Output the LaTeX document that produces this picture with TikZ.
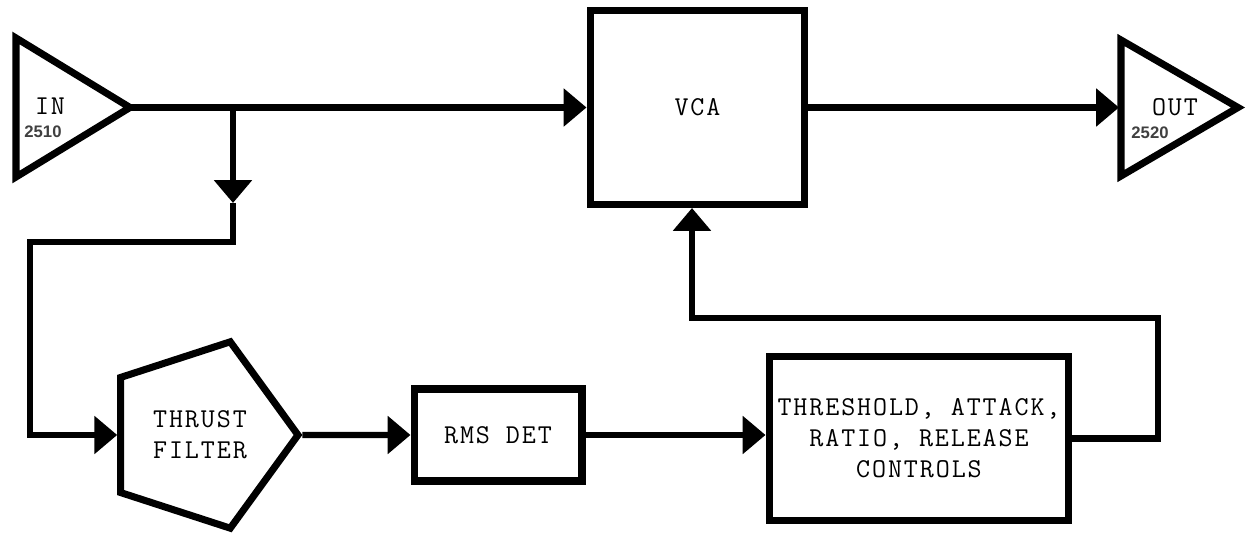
\documentclass[tikz,border=0pt]{standalone}
\usepackage{fontspec}
\setsansfont{Liberation Sans}
\newfontfamily\blockface{Latin Modern Mono}[LetterSpace=7]
\usepackage{tikz}
\usetikzlibrary{
	arrows.meta,
	calc,
	positioning,
	shapes,
	}
\newcommand\blockfont{\fontsize{15.5}{17.6}\selectfont\blockface}
\newcommand\tagfont{\fontsize{9.5}{10}\selectfont\sffamily\bfseries}

\begin{document}
\begin{tikzpicture}[x=0.02cm, y=-0.02cm,
		wire/.style={line width=3.6pt},
		flow/.style={wire, -{Triangle[length=13pt,width=21pt]}},
		block/.style={draw, line width=4pt, inner sep=0pt, align=center, font=\blockfont, text=black},
		lbl/.style={font=\blockfont, text=black},
		tag/.style={font=\tagfont, text=black!75}]
		\useasboundingbox (0,0) rectangle (1249,537);
		\node[block, minimum width=4.3cm, minimum height=3.88cm] (vca) at (697.5,107.5) {VCA};
		\node[block, regular polygon, regular polygon sides=5, shape border rotate=270, minimum size=3.92cm] (filter) at (200,435) {THRUST\\FILTER};
		\node[block, minimum width=3.36cm, minimum height=1.84cm] (rms) at (498,435) {RMS DET};
		\node[block, minimum width=6cm, minimum height=3.3cm] (ctrl) at (919,438.5) {THRESHOLD, ATTACK,\\RATIO, RELEASE\\CONTROLS};
		\coordinate (inTop) at (16,38);
		\coordinate (inBot) at (16,177);
		\coordinate (inTip) at (130,107.5);
		\draw[line width=4pt] (inTop) -- (inTip) -- (inBot) -- cycle;
		\node[lbl] (in) at (50,106) {IN};
		\node[tag] (inNum) at (43,132) {2510};
		\coordinate (outTop) at (1121,40);
		\coordinate (outBot) at (1121,176);
		\coordinate (outTip) at (1238,107.5);
		\coordinate (outBase) at (1119,107.5);
		\draw[line width=4pt] (outTop) -- (outTip) -- (outBot) -- cycle;
		\node[lbl] (out) at (1175,107) {OUT};
		\node[tag] (outNum) at (1150,133) {2520};
		\coordinate (split) at (233,107.5);
		\coordinate (splitTip) at (233,203);
		\coordinate (loopTop) at (30,242);
		\coordinate (fbR) at (1158,318);
		\coordinate (fbL) at (692,318);
		\draw[flow] (inTip) -- (vca.west);
		\draw[flow] (vca.east) -- (outBase);
		\draw[flow] (split) -- (splitTip);
		\draw[flow] (splitTip) |- (loopTop) |- (filter.west);
		\draw[flow] (filter.east) -- (rms.west);
		\draw[flow] (rms.east) -- (rms.east -| ctrl.west);
		\draw[flow] (ctrl.east) -| (fbR) -- (fbL) -- (fbL |- vca.south);
	\end{tikzpicture}
\end{document}
